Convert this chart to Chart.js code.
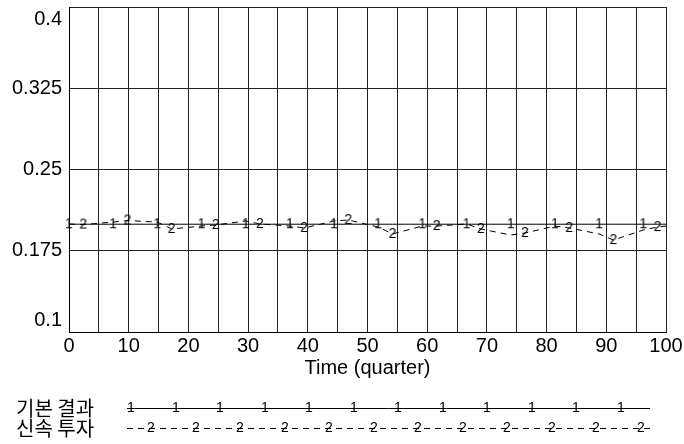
<!DOCTYPE html>
<html>
<head>
<meta charset="utf-8">
<script src="https://cdn.jsdelivr.net/npm/chart.js@4.4.0/dist/chart.umd.min.js"></script>
<style>
  html, body { margin: 0; padding: 0; background: #fff; }
</style>
</head>
<body>
<canvas id="chart" width="684" height="444"></canvas>
<script>
// quarters where the curves were read (markers sit on alternating points)
const quarters = [0, 2.4, 7.4, 9.8, 14.8, 17.2, 22.2, 24.6, 29.6, 32.0, 37.0, 39.4, 44.4, 46.8,
  51.8, 54.2, 59.2, 61.6, 66.6, 69.0, 74.0, 76.4, 81.4, 83.8, 88.8, 91.2, 96.2, 98.6, 100];
const baseline = [0.1995, 0.1995, 0.1995, 0.1995, 0.1995, 0.1995, 0.1995, 0.1995, 0.1995, 0.1995,
  0.1995, 0.1995, 0.1995, 0.1995, 0.1995, 0.1995, 0.1995, 0.1995, 0.1995, 0.1995,
  0.1995, 0.1995, 0.1995, 0.1995, 0.1995, 0.1995, 0.1995, 0.1995, 0.1995];
const fastInvest = [0.1997, 0.1992, 0.2015, 0.2029, 0.2015, 0.1951, 0.1978, 0.1988, 0.2025, 0.1997,
  0.1978, 0.1960, 0.2025, 0.2034, 0.1969, 0.1905, 0.1978, 0.1978, 0.1997, 0.1951,
  0.1895, 0.1914, 0.1978, 0.1960, 0.1905, 0.1849, 0.1942, 0.1969, 0.1978];
const seriesNames = ['기본 결과', '신속 투자'];
const xTicks = [0, 5, 10, 15, 20, 25, 30, 35, 40, 45, 50, 55, 60, 65, 70, 75, 80, 85, 90, 95, 100];
const yTicks = [0.1, 0.175, 0.25, 0.325, 0.4];

const tickFont = { family: '"Liberation Sans", Arial, sans-serif', size: 20 };

function glyph(ch) {
  const c = document.createElement('canvas');
  c.width = 10;
  c.height = 16;
  const g = c.getContext('2d');
  g.font = '14px "Liberation Sans", Arial, sans-serif';
  g.fillStyle = '#000';
  g.textAlign = 'center';
  g.textBaseline = 'middle';
  g.fillText(ch, 5, 8.5);
  return c;
}
const glyphs = [glyph('1'), glyph('2')];

function markerRadius(parity) {
  return (ctx) => (ctx.dataIndex % 2 === parity && ctx.dataIndex < quarters.length - 1) ? 4 : 0;
}

const seriesKey = {
  id: 'seriesKey',
  afterDraw(chart) {
    const ctx = chart.ctx;
    chart.data.datasets.forEach((ds, i) => {
      const y = 408 + i * 20;
      ctx.save();
      ctx.fillStyle = '#000';
      ctx.font = '20px "Noto Sans CJK KR", sans-serif';
      ctx.textAlign = 'left';
      ctx.textBaseline = 'middle';
      ctx.fillText(ds.label, 16, y);
      ctx.strokeStyle = '#000';
      ctx.lineWidth = 1;
      ctx.setLineDash(ds.borderDash || []);
      ctx.beginPath();
      ctx.moveTo(127, y + 0.5);
      ctx.lineTo(650, y + 0.5);
      ctx.stroke();
      const g = glyphs[i];
      for (let k = 0; k < 12; k++) {
        const gx = 131 + i * 20 + k * 44.5;
        ctx.drawImage(g, Math.round(gx - g.width / 2), Math.round(y - g.height / 2));
      }
      ctx.restore();
    });
  }
};

new Chart(document.getElementById('chart'), {
  type: 'line',
  data: {
    datasets: [{
      label: seriesNames[0],
      data: quarters.map((q, i) => ({ x: q, y: baseline[i] })),
      borderColor: '#000',
      borderWidth: 1,
      tension: 0,
      pointStyle: glyphs[0],
      pointRadius: markerRadius(0),
      pointHoverRadius: 0,
      clip: false
    }, {
      label: seriesNames[1],
      data: quarters.map((q, i) => ({ x: q, y: fastInvest[i] })),
      borderColor: '#000',
      borderWidth: 1,
      borderDash: [6, 5],
      tension: 0,
      pointStyle: glyphs[1],
      pointRadius: markerRadius(1),
      pointHoverRadius: 0,
      clip: false
    }]
  },
  options: {
    responsive: false,
    animation: false,
    events: [],
    layout: { padding: { left: 0, right: 18, top: 7, bottom: 62 } },
    plugins: { legend: { display: false }, tooltip: { enabled: false } },
    scales: {
      x: {
        type: 'linear',
        min: 0,
        max: 100,
        afterBuildTicks: (s) => { s.ticks = xTicks.map(v => ({ value: v })); },
        afterFit: (s) => { s.height = 50; s.paddingLeft = 0; s.paddingRight = 0; },
        grid: { color: '#222', lineWidth: 1, drawTicks: false },
        border: { display: true, color: '#000', width: 1 },
        ticks: {
          autoSkip: false,
          maxRotation: 0,
          padding: 2,
          color: '#000',
          font: tickFont,
          callback: (v) => (v % 10 === 0 ? String(v) : '')
        },
        title: {
          display: true,
          text: 'Time (quarter)',
          color: '#000',
          font: tickFont,
          padding: { top: 0, bottom: 2 }
        }
      },
      y: {
        min: 0.1,
        max: 0.4,
        afterBuildTicks: (s) => { s.ticks = yTicks.map(v => ({ value: v })); },
        afterFit: (s) => { s.width = 69; s.paddingTop = 0; s.paddingBottom = 0; },
        grid: { color: '#222', lineWidth: 1, drawTicks: false },
        border: { display: true, color: '#000', width: 1 },
        ticks: {
          padding: 7,
          color: '#000',
          font: tickFont,
          callback: (v) => {
            const s = String(v);
            if (v === yTicks[yTicks.length - 1]) return ['', s];
            if (v === yTicks[0]) return [s, ''];
            return s;
          }
        }
      }
    }
  },
  plugins: [seriesKey]
});
</script>
</body>
</html>
